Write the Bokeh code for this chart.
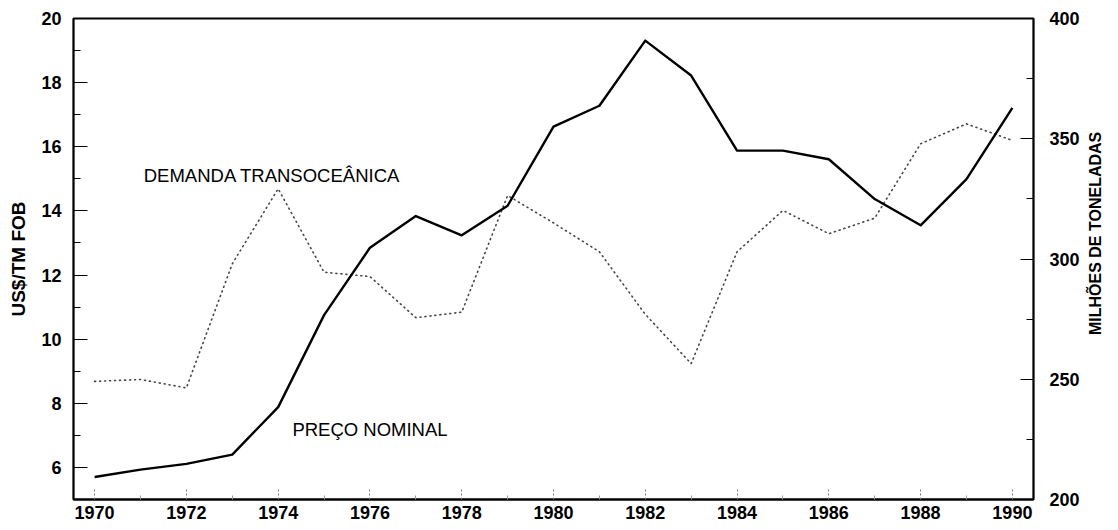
import math
from bokeh.plotting import figure
from bokeh.models import Range1d, LinearAxis, FixedTicker, Label
from bokeh.embed import file_html
from bokeh.resources import INLINE

# ---- data ----
years = list(range(1970, 1991))
preco_nominal = [5.70, 5.93, 6.11, 6.40, 7.88, 10.75, 12.85, 13.84, 13.24, 14.16,
                 16.63, 17.28, 19.31, 18.22, 15.88, 15.88, 15.61, 14.37, 13.55, 14.99, 17.21]
demanda_transoceanica = [249.1, 249.9, 246.4, 298.0, 329.2, 294.5, 292.7, 275.6, 277.9, 326.4,
                         315.0, 303.0, 277.0, 256.5, 303.0, 320.2, 310.5, 317.0, 347.9, 356.2, 349.3]

x_ticks = [1970, 1972, 1974, 1976, 1978, 1980, 1982, 1984, 1986, 1988, 1990]
x_minor = [1971, 1973, 1975, 1977, 1979, 1981, 1983, 1985, 1987, 1989]
left_ticks = [6, 8, 10, 12, 14, 16, 18, 20]
left_minor = [5, 7, 9, 11, 13, 15, 17, 19]
right_ticks = [200, 250, 300, 350, 400]
right_minor = [225, 275, 325, 375]

FONT = "Liberation Sans"

p = figure(width=1116, height=528,
           x_range=Range1d(1969.54, 1990.46), y_range=Range1d(5, 20),
           output_backend="svg", toolbar_location=None,
           min_border_left=73, min_border_right=83, min_border_top=18, min_border_bottom=29)
p.extra_y_ranges = {"demanda": Range1d(200, 400)}

p.xgrid.visible = False
p.ygrid.visible = False
p.outline_line_color = "black"
p.outline_line_width = 2
p.background_fill_color = "white"
p.border_fill_color = "white"

# x axis
xa = p.xaxis[0]
xa.ticker = FixedTicker(ticks=x_ticks, minor_ticks=x_minor)
xa.major_tick_in = 12
xa.major_tick_out = 0
xa.minor_tick_in = 4
xa.minor_tick_out = 0
xa.major_tick_line_color = "#777777"
xa.major_tick_line_dash = "2 2"
xa.minor_tick_line_color = "#999999"
xa.axis_line_color = "black"
xa.axis_line_width = 2
xa.major_label_text_font = FONT
xa.major_label_text_font_style = "bold"
xa.major_label_text_font_size = "18px"
xa.major_label_text_color = "black"
xa.major_label_standoff = 6

# left axis
ya = p.yaxis[0]
ya.ticker = FixedTicker(ticks=left_ticks, minor_ticks=left_minor)
ya.major_tick_in = 14
ya.major_tick_out = 0
ya.minor_tick_in = 7
ya.minor_tick_out = 0
ya.axis_line_color = "black"
ya.axis_line_width = 1.5
ya.major_label_text_font = FONT
ya.major_label_text_font_style = "bold"
ya.major_label_text_font_size = "18px"
ya.major_label_text_color = "black"
ya.major_label_standoff = 12
ya.axis_label = "US$/TM FOB"
ya.axis_label_text_font = FONT
ya.axis_label_text_font_style = "bold"
ya.axis_label_text_font_size = "19px"
ya.axis_label_text_color = "black"
ya.axis_label_standoff = 9

# right axis
ra = LinearAxis(y_range_name="demanda",
                ticker=FixedTicker(ticks=right_ticks, minor_ticks=right_minor))
ra.major_tick_in = 13
ra.major_tick_out = 0
ra.minor_tick_in = 7
ra.minor_tick_out = 0
ra.axis_line_color = "black"
ra.axis_line_width = 1.5
ra.major_label_text_font = FONT
ra.major_label_text_font_style = "bold"
ra.major_label_text_font_size = "18px"
ra.major_label_text_color = "black"
ra.major_label_standoff = 16
# title reads bottom-to-top, starting about a third of the way up as in the original
ra.axis_label = "\u00a0" * 37 + "MILHÕES DE TONELADAS"
ra.axis_label_text_font = FONT
ra.axis_label_text_font_style = "bold"
ra.axis_label_text_font_size = "16px"
ra.axis_label_text_color = "black"
ra.axis_label_standoff = 13
ra.axis_label_orientation = math.pi / 2
ra.axis_label_align = "start"
p.add_layout(ra, "right")

# series
p.line(years, demanda_transoceanica, y_range_name="demanda",
       line_color="#444444", line_width=1.6, line_dash="1 4", line_cap="round")
p.line(years, preco_nominal, line_color="black", line_width=2.4, line_join="round")

# in-chart labels
p.add_layout(Label(x=1971.07, y=15.09, text="DEMANDA TRANSOCEÂNICA",
                   text_font=FONT, text_font_size="18.5px", text_color="black",
                   text_baseline="alphabetic"))
p.add_layout(Label(x=1974.31, y=7.18, text="PREÇO NOMINAL",
                   text_font=FONT, text_font_size="18.5px", text_color="black",
                   text_baseline="alphabetic"))

open("out.html", "w").write(file_html(p, INLINE))
